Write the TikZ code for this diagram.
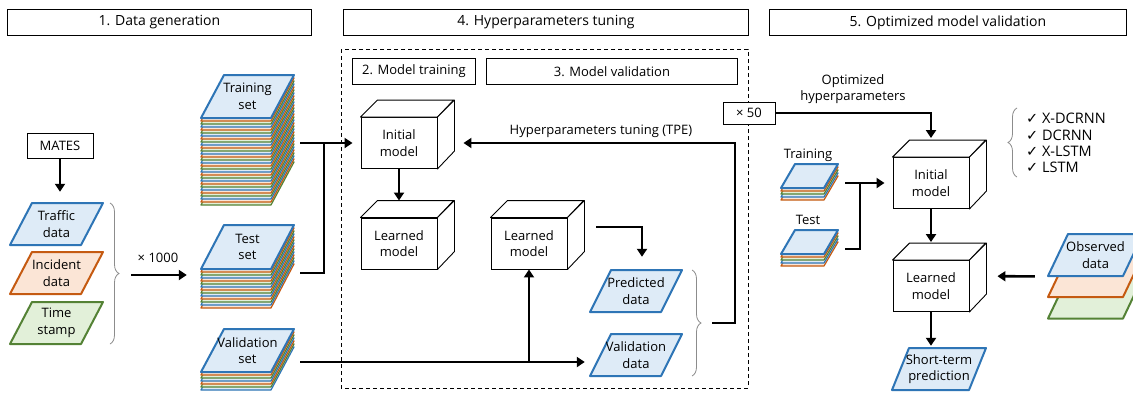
\documentclass[tikz,border=0pt]{standalone}
\usepackage{fontspec}
\setmainfont{Open Sans}
\newfontfamily\symfont{DejaVu Sans}
\usetikzlibrary{arrows.meta,decorations.pathreplacing,calc}

\definecolor{dblue}{HTML}{2E75B6}
\definecolor{lblue}{HTML}{DEEBF7}
\definecolor{dorange}{HTML}{C55A11}
\definecolor{lorange}{HTML}{FBE5D6}
\definecolor{dgreen}{HTML}{548235}
\definecolor{lgreen}{HTML}{E2F0D9}
\definecolor{bracegray}{HTML}{8C8C8C}

% parallelogram data item: name, cx, cy, edge width, height, skew, style, text
\newcommand\datapara[8]{%
  \draw[#7] ({#2-(#4+#6)/2},{#3+#5/2}) -- ++(#4,0) -- ++(#6,-#5) -- ++(-#4,0) -- cycle;
  \node[txt, minimum width={#4+#6}, minimum height=#5] (#1) at (#2,#3) {#8};
}

% stack of data sets: left x and y of top face lower edge, width, height, skew, layers, text
\newcommand\datastack[7]{%
  \foreach \i in {#6,...,1} {
    \pgfmathtruncatemacro\lyrc{mod(\i,3)}
    \ifcase\lyrc \def\lyrd{dblue}\def\lyrf{lblue}\or
      \def\lyrd{dorange}\def\lyrf{lorange}\or
      \def\lyrd{dgreen}\def\lyrf{lgreen}\fi
    \draw[line width=1.2pt, draw=\lyrd, fill=\lyrf, line join=round]
      ({#1},{#2+3*\i}) -- ++(#3,0) -- ++(#5,-#4) -- ++(-#3,0) -- cycle;
  }
  \draw[blueitem] ({#1},{#2}) -- ++(#3,0) -- ++(#5,-#4) -- ++(-#3,0) -- cycle;
  \node[txt] at ({#1+(#3+#5)/2},{#2-#4/2}) {#7};
}

% model cube: name, centre x, centre y, text
\newcommand\modelcube[4]{%
  \node[cubefront] (#1) at (#2,#3) {#4};
  \draw[cubeline] (#1.north west) -- ++(17,-17) -- ++(76,0) -- (#1.north east) -- cycle;
  \draw[cubeline] (#1.north east) -- ++(17,-17) -- ++(0,51) -- (#1.south east) -- cycle;
}

\begin{document}
\begin{tikzpicture}[x=1pt,y=-1pt,
  txt/.style={font=\fontsize{13}{16.5}\selectfont, align=center, inner sep=0pt},
  hdr/.style={draw, line width=0.9pt, font=\fontsize{14}{16}\selectfont,
    inner sep=0pt, anchor=north west, minimum height=26},
  subhdr/.style={hdr, font=\fontsize{13}{16}\selectfont},
  box/.style={draw, line width=0.9pt, txt, fill=white},
  anchorbox/.style={inner sep=0pt},
  cubefront/.style={draw, fill=white, line width=0.9pt, txt, minimum width=76, minimum height=51},
  cubeline/.style={draw, fill=white, line width=0.9pt, line join=round},
  blueitem/.style={draw=dblue, fill=lblue, line width=2pt, line join=round},
  orangeitem/.style={draw=dorange, fill=lorange, line width=2pt, line join=round},
  greenitem/.style={draw=dgreen, fill=lgreen, line width=2pt, line join=round},
  ln/.style={line width=2.6pt},
  arr/.style={line width=2.6pt, -{Triangle[length=8pt,width=10pt]}},
  curly/.style={draw=bracegray, line width=0.8pt, decorate,
    decoration={brace, amplitude=9pt}},
]
\fill[white] (0,0) rectangle (1133,392);
\useasboundingbox (0,0) rectangle (1133,392);

% stage headers
\node[hdr, minimum width=304] (h1) at (7,9) {1. Data generation};
\node[hdr, minimum width=405] (h4) at (343,9) {4. Hyperparameters tuning};
\node[hdr, minimum width=357] (h5) at (769,9) {5. Optimized model validation};

% tuning loop frame
\draw[line width=0.9pt, dash pattern=on 4pt off 3pt] (341,49) rectangle (748,388);
\node[subhdr, minimum width=123] (h2) at (352,58) {2. Model training};
\node[subhdr, minimum width=251] (h3) at (486,58) {3. Model validation};

% 1. data generation
\node[box, minimum width=66, minimum height=25] (mates) at (60,145.5) {MATES};
\datapara{traffic}{56.5}{224}{71}{42}{22}{blueitem}{Traffic\\data}
\datapara{incident}{56.5}{273}{71}{42}{22}{orangeitem}{Incident\\data}
\datapara{timestamp}{56.5}{323}{71}{42}{22}{greenitem}{Time\\stamp}
\draw[arr, shorten >=11pt] (mates.south) -- (mates.south |- traffic.north);
\draw[curly] (110,203) -- (110,344);
\coordinate (b1) at (123,275);
\node[txt] (x1000) at (158,258) {× 1000};

\datastack{201}{118}{70}{43}{23}{29}{Training\\set}
\node[anchorbox, minimum width=94, minimum height=136] (trainstack) at (248,143) {};
\datastack{201}{269}{70}{44}{23}{13}{Test\\set}
\node[anchorbox, minimum width=94, minimum height=96] (teststack) at (248,273) {};
\datastack{201}{372}{70}{43}{23}{6}{Validation\\set}
\node[anchorbox, minimum width=94, minimum height=66] (valstack) at (248,362) {};

\draw[arr, shorten <=8pt, shorten >=14pt] (b1) -- (b1 -| teststack.west);

% 2./3. training and validation
\modelcube{init1}{399}{143}{Initial\\model}
\modelcube{learned1}{399}{243.5}{Learned\\model}
\modelcube{learned2}{529}{243.5}{Learned\\model}
\datapara{predicted}{636}{291}{71}{42}{21}{blueitem}{Predicted\\data}
\datapara{valdata}{636}{355}{71}{42}{21}{blueitem}{Validation\\data}

\coordinate (tj) at (324,143);
\draw[arr, shorten <=5pt, shorten >=8pt] (trainstack.east) -- (init1.west);
\draw[ln, shorten <=5pt] (teststack.east) -| (tj);
\draw[arr, shorten >=17pt] (init1.south) -- (learned1.north);
\draw[arr, shorten <=5pt, shorten >=5pt] (valstack.east) -- (valstack.east -| valdata.west);
\coordinate (vj) at (valstack.east -| learned2.south);
\draw[arr] (vj) -- (learned2.south);
\draw[arr, shorten >=13pt] ([xshift=29pt,yshift=16.5pt]learned2.east) -| ([xshift=6pt]predicted.north);

\draw[curly] (692,270) -- (692,376);
\coordinate (b2) at (700,323);
\draw[arr, shorten <=12pt, shorten >=26pt] (b2) -- ++(35,0) |- (init1.east);
\node[txt] (tpe) at (601,131) {Hyperparameters tuning (TPE)};

% 5. optimized model validation
\node[box, minimum width=52, minimum height=22] (x50) at (749,113) {× 50};
\node[txt] (opt) at (853,89) {Optimized\\hyperparameters};
\modelcube{init2}{931}{183}{Initial\\model}
\modelcube{learned3}{931}{286}{Learned\\model}
\draw[arr, shorten >=19pt] (x50.east) -| (init2.north);

\node[txt] (trlab) at (808,155) {Training};
\datastack{781}{188}{43}{24}{14}{4}{}
\node[anchorbox, minimum width=57, minimum height=38] (trainsmall) at (809.5,183) {};
\node[txt] (telab) at (808,220) {Test};
\datastack{781}{254}{43}{24}{14}{4}{}
\node[anchorbox, minimum width=57, minimum height=38] (testsmall) at (809.5,249) {};
\coordinate (tj2) at (860,183);
\draw[arr, shorten <=7pt, shorten >=8pt] (trainsmall.east) -- (init2.west);
\draw[ln, shorten <=7pt] (testsmall.east) -| (tj2);

\draw[arr, shorten >=18pt] (init2.south) -- (learned3.north);

\datapara{obsgreen}{1095.5}{297.5}{75}{42}{20}{greenitem}{}
\datapara{obsorange}{1095.5}{276}{75}{42}{20}{orangeitem}{}
\datapara{obsblue}{1095.5}{255}{75}{42}{20}{blueitem}{Observed\\data}
\node[anchorbox, minimum width=95, minimum height=85] (obs) at (1095.5,276.5) {};
\draw[arr, shorten <=13pt, shorten >=28pt] (obs.west) -- ([yshift=10pt]learned3.east);

\datapara{stp}{939}{369}{77}{42}{17}{blueitem}{Short-term\\prediction}
\draw[arr, shorten >=2pt] (learned3.south) -- (learned3.south |- stp.north);

\draw[curly] (1017,177) -- (1017,108);
\node[txt, anchor=west, align=left, font=\fontsize{14.5}{16.3}\selectfont] (models) at (1026,143)
  {{\symfont ✓} X-DCRNN\\{\symfont ✓} DCRNN\\{\symfont ✓} X-LSTM\\{\symfont ✓} LSTM};
\end{tikzpicture}
\end{document}
